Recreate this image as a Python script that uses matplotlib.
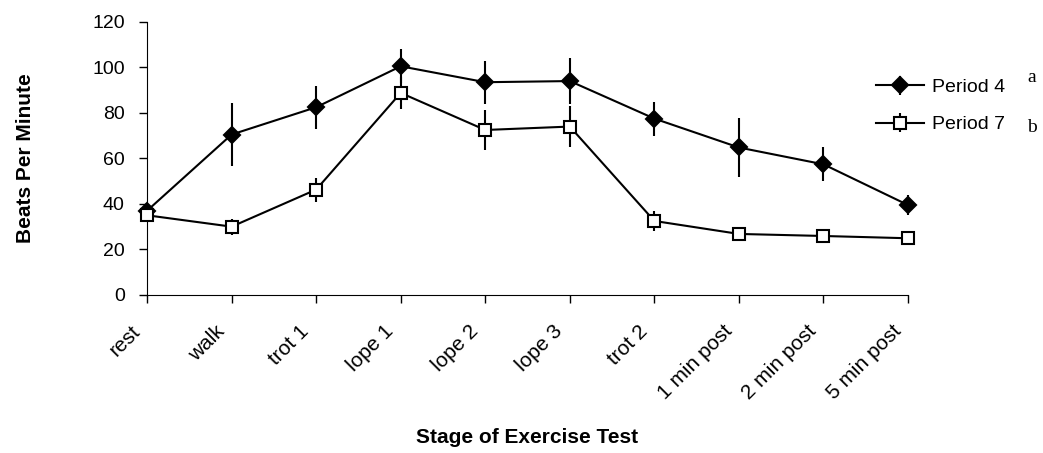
import numpy as np
import matplotlib.pyplot as plt
from matplotlib.transforms import ScaledTranslation

plt.rcParams['font.family'] = ['Liberation Sans', 'DejaVu Sans']

stages = ['rest', 'walk', 'trot 1', 'lope 1', 'lope 2', 'lope 3', 'trot 2',
          '1 min post', '2 min post', '5 min post']
period4 = [37, 70.5, 82.5, 100.5, 93.5, 94, 77.5, 64.8, 57.4, 39.5]
period4_err = [2.5, 14, 9.5, 7.5, 9.5, 10, 7.5, 13, 7.5, 4.5]
period7 = [35, 30, 46.3, 88.8, 72.5, 74, 32.5, 26.8, 25.9, 24.9]
period7_err = [3, 3.5, 5.3, 7, 9, 9, 4.5, 1, 1, 1]

x = np.arange(len(stages))

fig = plt.figure(figsize=(10.43, 4.53), dpi=100)
ax = fig.add_axes([0.141, 0.349, 0.7296, 0.6026])

for yv, err, mk, fc, lab, z in [(period4, period4_err, 'D', 'black', 'Period 4', 3),
                                (period7, period7_err, 's', 'white', 'Period 7', 4)]:
    eb = ax.errorbar(x, yv, yerr=err, color='black', lw=1.5, elinewidth=1.5,
                     capsize=0, marker=mk, markersize=8, markerfacecolor=fc,
                     markeredgecolor='black', markeredgewidth=1.5, label=lab, zorder=z)
    # keep markers at the axis edges whole
    for art in eb.lines[0:1] + tuple(eb.lines[2]):
        art.set_clip_on(False)

ax.set_xlim(0, len(stages) - 1)
ax.set_ylim(0, 120)
ax.set_yticks(np.arange(0, 121, 20))
ax.set_xticks(x)
ax.set_xticklabels(stages, rotation=45, ha='right', va='center', rotation_mode='anchor')
ax.tick_params(axis='both', direction='out', length=6, width=1, pad=10)
ax.tick_params(axis='y', labelsize=14)
ax.tick_params(axis='x', labelsize=15, pad=18)
shift = ScaledTranslation(-0.1, 0, fig.dpi_scale_trans)
for lbl in ax.get_xticklabels():
    lbl.set_transform(lbl.get_transform() + shift)
for s in ['top', 'right']:
    ax.spines[s].set_visible(False)

ax.set_ylabel('Beats Per Minute', fontsize=15, fontweight='bold')
ax.yaxis.set_label_coords(-122 / 761, 0.5)
ax.set_xlabel('Stage of Exercise Test', fontsize=15, fontweight='bold')
ax.xaxis.set_label_coords(0.5, -(438 - 295) / 273)
ax.xaxis.label.set_va('center')
ax.yaxis.label.set_va('center')

fig.legend(loc='center left', bbox_to_anchor=(868 / 1043, 1 - 106 / 453),
           frameon=False, fontsize=14, handlelength=2.5, handletextpad=0.4,
           labelspacing=1.0, borderaxespad=0)
for t, ypx in zip(['a', 'b'], [77, 127]):
    fig.text(1027 / 1043, 1 - ypx / 453, t, family='Liberation Serif', fontsize=14,
             va='center', ha='left')

fig.savefig('out.png', dpi=100)
